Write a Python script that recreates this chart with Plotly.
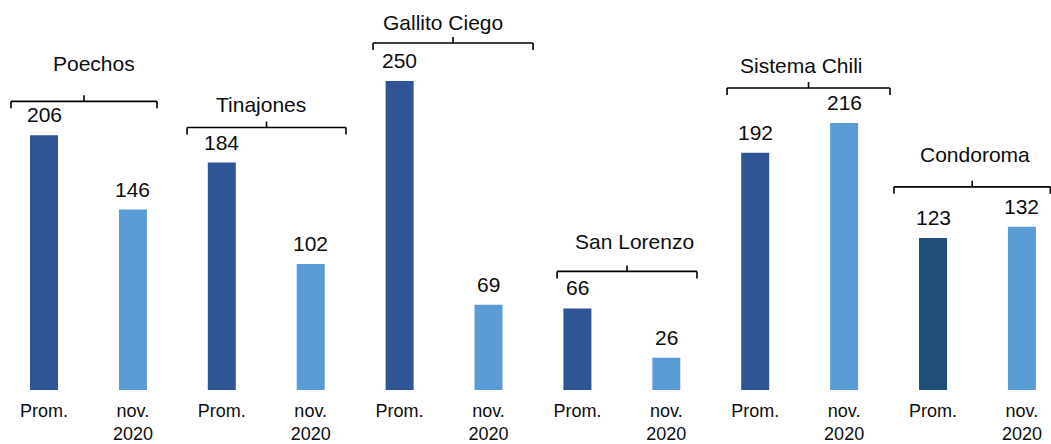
import plotly.graph_objects as go

# ---- data ----
groups = ["Poechos", "Tinajones", "Gallito Ciego", "San Lorenzo", "Sistema Chili", "Condoroma"]
prom_values = [206, 184, 250, 66, 192, 123]
nov_values = [146, 102, 69, 26, 216, 132]
prom_label = "Prom."
nov_label = "nov.<br>2020"

# ---- styling ----
prom_colors = ["#2F5597", "#2F5597", "#2F5597", "#2F5597", "#2F5597", "#1F4E79"]
nov_color = "#5B9BD5"
text_color = "#0d0d0d"
font_family = "Liberation Sans, Arial, sans-serif"

W, H = 1051, 444
M_B = 54
PLOT_H = H - M_B
Y_TOP = 315.5
PPU = PLOT_H / Y_TOP          # pixels per value unit
X_RANGE = [-0.495, 11.327]
BAR_W = 0.315

# bracket geometry per group (extents in category units, heights in px)
br_left = [0.371, 0.391, 0.299, 0.229, 0.317, 0.439]
br_right = [0.271, 0.397, 0.501, 0.345, 0.516, 0.32]
br_gap_px = [34, 35, 38, 37, 35, 40]
lab_gap_px = [38, 23, 20, 30, 23, 32]
lab_dx = [0.062, -0.059, -0.012, 0.137, 0.015, -0.028]

prom_x = [2 * i for i in range(len(groups))]
nov_x = [2 * i + 1 for i in range(len(groups))]

fig = go.Figure()
fig.add_trace(go.Bar(x=prom_x, y=prom_values, width=BAR_W, name="Prom.",
                     marker=dict(color=prom_colors, line=dict(width=0))))
fig.add_trace(go.Bar(x=nov_x, y=nov_values, width=BAR_W, name="nov. 2020",
                     marker=dict(color=nov_color, line=dict(width=0))))

annotations = []
shapes = []
# value labels
for xs, vs in ((prom_x, prom_values), (nov_x, nov_values)):
    for x, v in zip(xs, vs):
        annotations.append(dict(x=x, y=v, xref="x", yref="y", text=str(v),
                                showarrow=False, yanchor="bottom", yshift=7,
                                font=dict(size=21, color=text_color, family=font_family)))

# brackets and group labels
line_style = dict(color="#000000", width=1.6)
for i, g in enumerate(groups):
    top = max(prom_values[i], nov_values[i])
    yb = top + br_gap_px[i] / PPU
    x0 = prom_x[i] - br_left[i]
    x1 = nov_x[i] + br_right[i]
    xm = (x0 + x1) / 2
    dn = 7 / PPU
    up = 6 / PPU
    shapes.append(dict(type="line", xref="x", yref="y", x0=x0, x1=x1, y0=yb, y1=yb, line=line_style))
    shapes.append(dict(type="line", xref="x", yref="y", x0=x0, x1=x0, y0=yb, y1=yb - dn, line=line_style))
    shapes.append(dict(type="line", xref="x", yref="y", x0=x1, x1=x1, y0=yb, y1=yb - dn, line=line_style))
    shapes.append(dict(type="line", xref="x", yref="y", x0=xm, x1=xm, y0=yb, y1=yb + up, line=line_style))
    annotations.append(dict(x=(prom_x[i] + nov_x[i]) / 2 + lab_dx[i], y=yb + lab_gap_px[i] / PPU,
                            xref="x", yref="y", text=g, showarrow=False, yanchor="middle",
                            font=dict(size=21, color=text_color, family=font_family)))

tickvals = prom_x + nov_x
ticktext = [prom_label] * len(prom_x) + [nov_label] * len(nov_x)

fig.update_layout(
    width=W, height=H,
    margin=dict(l=0, r=0, t=0, b=M_B, pad=0, autoexpand=False),
    paper_bgcolor="white", plot_bgcolor="white",
    showlegend=False,
    annotations=annotations,
    shapes=shapes,
    font=dict(family=font_family, color=text_color),
)
fig.update_xaxes(range=X_RANGE, tickvals=tickvals, ticktext=ticktext, showgrid=False,
                 zeroline=False, showline=False, ticks="", ticklabelstandoff=8,
                 automargin=False,
                 tickfont=dict(size=18, color=text_color, family=font_family))
fig.update_yaxes(range=[0, Y_TOP], visible=False, showgrid=False, zeroline=False, automargin=False)

fig.write_html("out.html", config={"displayModeBar": False},
               post_script="document.body.style.margin='0';document.body.style.overflow='hidden';")
